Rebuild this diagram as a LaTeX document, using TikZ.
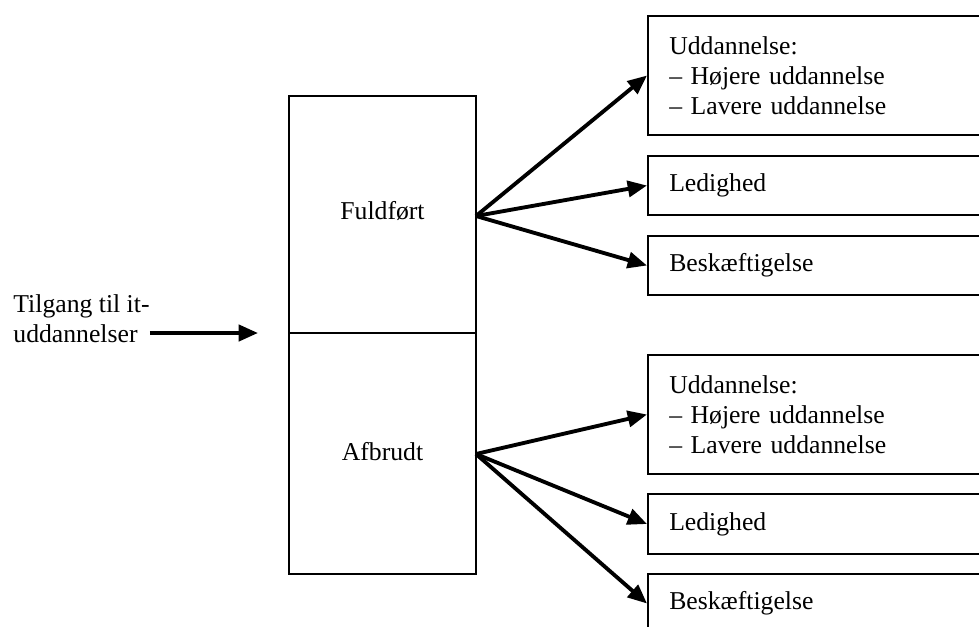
\documentclass[tikz,border=0pt]{standalone}
\usepackage{fontspec}
\setmainfont{Liberation Serif}
\usetikzlibrary{arrows.meta,calc}
\def\drawout{\draw[line width=1.8pt,-{Triangle[length=9pt,width=7.5pt]}]}
\def\boxnode{\node[draw,line width=0.8pt,anchor=west,minimum width=170pt,text width=150pt,inner xsep=9.8pt,align=left]}

\begin{document}
\begin{tikzpicture}[x=0.467pt,y=-0.467pt,font=\fontsize{12pt}{14pt}\selectfont]
\clip (0,0) rectangle (979,626);

% ------- the split box in the middle -------
\node[draw,line width=0.8pt,minimum width=87.3pt,minimum height=223.2pt,inner sep=0pt] (stud) at (382.5,335) {};
\coordinate (mid) at (382.5,333);
\draw[line width=0.8pt] (stud.west |- mid) -- (stud.east |- mid);
\node[anchor=base] (fuld) at (382.5,219) {Fuldført};
\node[anchor=base] (afbr) at (382.5,460) {Afbrudt};

% intake on the left
\node[align=left,anchor=west,inner sep=0pt] (tilg) at (13,319) {Tilgang til it-\\uddannelser};
\coordinate (inn) at (258,333);
\drawout (tilg.east |- inn) -- (inn);

% ------- outcomes after Fuldfoert -------
\coordinate (o1) at (476,216); % start of the fan
\boxnode[minimum height=55.6pt] (ud1) at (647,75.5) {Uddannelse:\\– Højere uddannelse\\– Lavere uddannelse};
\boxnode[minimum height=27.6pt] (led1) at (647,185.5) {Ledighed};
\boxnode[minimum height=27.6pt] (besk1) at (647,265.5) {Beskæftigelse};
\drawout (o1) -- (ud1.west);
\drawout (o1) -- (led1.west);
\drawout (o1) -- (besk1.west);

% ------- outcomes after Afbrudt -------
\coordinate (o2) at (476,454);
\boxnode[minimum height=55.6pt] (ud2) at (647,414.5) {Uddannelse:\\– Højere uddannelse\\– Lavere uddannelse};
\boxnode[minimum height=28pt] (led2) at (647,524) {Ledighed};
\boxnode[minimum height=27.6pt] (besk2) at (647,603.5) {Beskæftigelse};
\drawout (o2) -- (ud2.west);
\drawout (o2) -- (led2.west);
\drawout (o2) -- (besk2.west);
\end{tikzpicture}
\end{document}
